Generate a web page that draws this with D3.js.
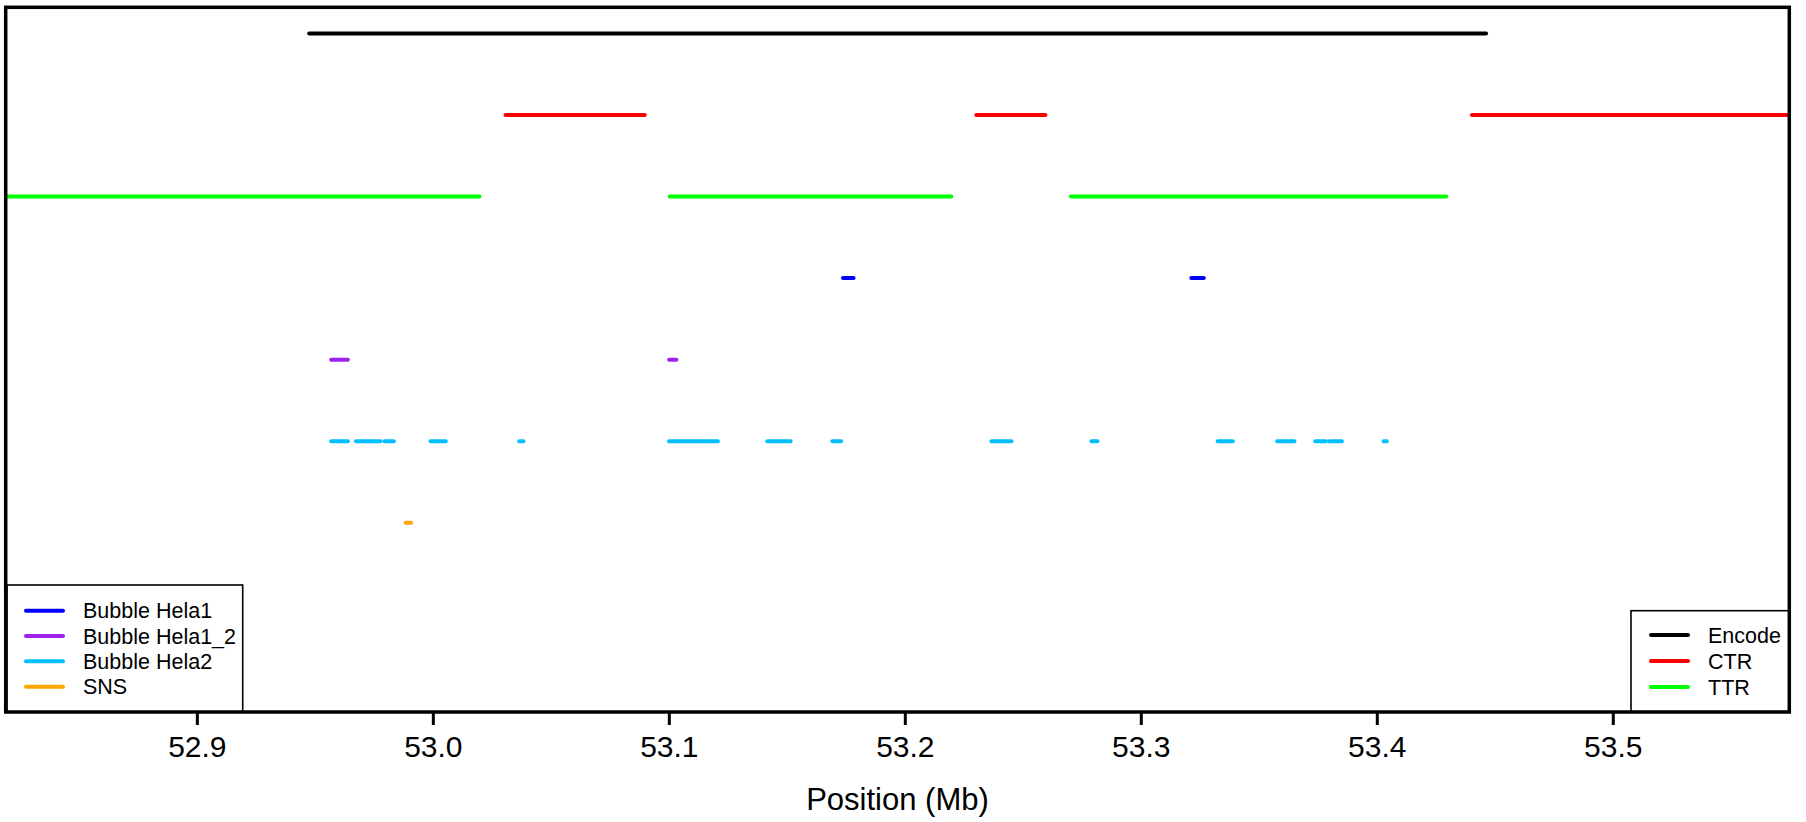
<!DOCTYPE html>
<html>
<head>
<meta charset="utf-8">
<script src="https://cdn.jsdelivr.net/npm/d3@7"></script>
<style>
  html, body { margin: 0; padding: 0; background: #ffffff; }
  svg { display: block; font-family: "Liberation Sans", Arial, sans-serif; }
</style>
</head>
<body>
<svg id="chart" width="1806" height="822"></svg>
<script>
// ---- data (positions in Mb) ----
const tracks   = ["Encode", "CTR", "TTR", "Bubble Hela1", "Bubble Hela1_2", "Bubble Hela2", "SNS"];
const trackRow = [7, 6, 5, 4, 3, 2, 1];
const trackColors = ["#000000", "#FF0000", "#00FF00", "#0000FF", "#A020F0", "#00BFFF", "#FFA500"];

const encodeStart = [52.9476];
const encodeEnd   = [53.4463];
const ctrStart = [53.0308, 53.2303, 53.4403];
const ctrEnd   = [53.0898, 53.2596, 53.6000];
const ttrStart = [52.8000, 53.1004, 53.2704];
const ttrEnd   = [53.0198, 53.2197, 53.4294];
const hela1Start = [53.1738, 53.3214];
const hela1End   = [53.1783, 53.3267];
const hela12Start = [52.9569, 53.1001];
const hela12End   = [52.9640, 53.1032];
const hela2Start = [52.9569, 52.9674, 52.9795, 52.9990, 53.0366, 53.1001, 53.1035, 53.1417, 53.1693,
                    53.2367, 53.2791, 53.3326, 53.3578, 53.3739, 53.3799, 53.4029];
const hela2End   = [52.9640, 52.9778, 52.9835, 53.0055, 53.0384, 53.1031, 53.1208, 53.1516, 53.1730,
                    53.2452, 53.2816, 53.3390, 53.3651, 53.3785, 53.3852, 53.4042];
const snsStart = [52.9885];
const snsEnd   = [52.9908];

const xTicks = [52.9, 53.0, 53.1, 53.2, 53.3, 53.4, 53.5];
const xDomain = [52.819, 53.5748];
const yDomain = [-1.32, 7.32];
const xTitle = "Position (Mb)";

const legendLeft  = ["Bubble Hela1", "Bubble Hela1_2", "Bubble Hela2", "SNS"];
const legendRight = ["Encode", "CTR", "TTR"];

// ---- build segment table ----
const segStarts = [encodeStart, ctrStart, ttrStart, hela1Start, hela12Start, hela2Start, snsStart];
const segEnds   = [encodeEnd, ctrEnd, ttrEnd, hela1End, hela12End, hela2End, snsEnd];
const segments = [];
tracks.forEach((t, i) => {
  segStarts[i].forEach((s, j) => {
    segments.push({track: t, row: trackRow[i], color: trackColors[i], start: s, end: segEnds[i][j]});
  });
});
const colorOf = name => trackColors[tracks.indexOf(name)];

// ---- layout ----
const plot = {left: 5.7, right: 1789.3, top: 7.3, bottom: 712};
const svg = d3.select("#chart");

const x = d3.scaleLinear().domain(xDomain).range([plot.left, plot.right]);
const y = d3.scaleLinear().domain(yDomain).range([plot.bottom, plot.top]);

svg.append("defs").append("clipPath").attr("id", "plotclip")
  .append("rect")
  .attr("x", plot.left).attr("y", plot.top)
  .attr("width", plot.right - plot.left).attr("height", plot.bottom - plot.top);

// segments
svg.append("g").attr("clip-path", "url(#plotclip)")
  .selectAll("line").data(segments).join("line")
  .attr("x1", d => x(d.start)).attr("x2", d => x(d.end))
  .attr("y1", d => y(d.row)).attr("y2", d => y(d.row))
  .attr("stroke", d => d.color)
  .attr("stroke-width", 4)
  .attr("stroke-linecap", "round");

// x axis
const axis = d3.axisBottom(x).tickValues(xTicks).tickFormat(d3.format(".1f")).tickSize(13).tickPadding(11);
const gx = svg.append("g").attr("transform", `translate(0,${plot.bottom})`).call(axis);
gx.select(".domain").remove();
gx.selectAll(".tick line").attr("stroke", "#000").attr("stroke-width", 3);
gx.selectAll(".tick text").attr("fill", "#000").attr("font-size", 30)
  .attr("font-family", "\"Liberation Sans\", Arial, sans-serif");

svg.append("text")
  .attr("x", (plot.left + plot.right) / 2).attr("y", 810)
  .attr("text-anchor", "middle").attr("font-size", 31).attr("fill", "#000")
  .text(xTitle);

// legends
function drawLegend(items, box, lineX1, lineX2, textX, rowY) {
  const g = svg.append("g");
  g.append("rect")
    .attr("x", box.x).attr("y", box.y).attr("width", box.w).attr("height", box.h)
    .attr("fill", "#fff").attr("stroke", "#000").attr("stroke-width", 1.6);
  const rows = g.selectAll("g.row").data(items).join("g").attr("class", "row")
    .attr("transform", (d, i) => `translate(0,${rowY[i]})`);
  rows.append("line")
    .attr("x1", lineX1).attr("x2", lineX2).attr("y1", 0).attr("y2", 0)
    .attr("stroke", d => colorOf(d)).attr("stroke-width", 4).attr("stroke-linecap", "round");
  rows.append("text")
    .attr("x", textX).attr("y", 0).attr("dy", "0.36em")
    .attr("font-size", 21.5).attr("fill", "#000")
    .text(d => d);
}
drawLegend(legendLeft, {x: 7, y: 585, w: 235.7, h: 127}, 26, 63, 83, [610.7, 636, 661.3, 686.7]);
drawLegend(legendRight, {x: 1631, y: 610.7, w: 158, h: 101}, 1651, 1688, 1708, [635, 661, 687]);

// plot frame
svg.append("rect")
  .attr("x", plot.left).attr("y", plot.top)
  .attr("width", plot.right - plot.left).attr("height", plot.bottom - plot.top)
  .attr("fill", "none").attr("stroke", "#000").attr("stroke-width", 3.5);
</script>
</body>
</html>
